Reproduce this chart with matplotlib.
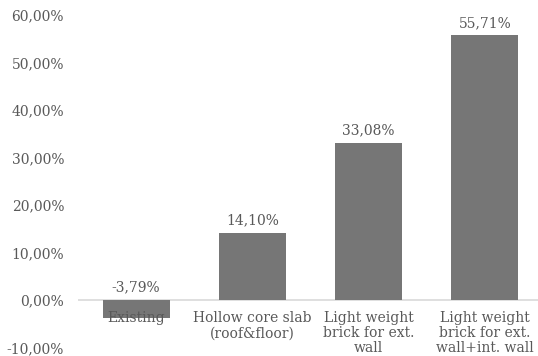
import matplotlib
matplotlib.use("Agg")
import matplotlib.pyplot as plt
from matplotlib.ticker import FuncFormatter

categories = [
    "Existing",
    "Hollow core slab\n(roof&floor)",
    "Light weight\nbrick for ext.\nwall",
    "Light weight\nbrick for ext.\nwall+int. wall",
]
values = [-3.79, 14.10, 33.08, 55.71]
yticks = [-10, 0, 10, 20, 30, 40, 50, 60]

BAR = "#767676"
TEXT = "#595959"
AXIS = "#d9d9d9"
FONT = "DejaVu Serif"

fig = plt.figure(figsize=(5.38, 3.56), dpi=100)
ax = fig.add_axes([78 / 538, 0, 1 - 78 / 538, 1])

x = list(range(len(categories)))
ax.bar(x, values, width=0.575, color=BAR, zorder=2)

ax.set_xlim(-0.5, 3.457)
ax.set_ylim(-11.79, 63.16)

ax.axhline(0, color=AXIS, lw=1.2, zorder=1)
for s in ax.spines.values():
    s.set_visible(False)

ax.set_xticks([])
ax.set_yticks(yticks)
ax.yaxis.set_major_formatter(FuncFormatter(lambda v, p: f"{v:.2f}%".replace(".", ",")))
ax.tick_params(axis="y", length=0, pad=10, labelcolor=TEXT, labelsize=10)
for lbl in ax.get_yticklabels():
    lbl.set_fontfamily(FONT)

# value labels above each bar (or above the zero line for negatives)
for xi, v in zip(x, values):
    ax.annotate(f"{v:.2f}%".replace(".", ","), (xi, max(v, 0)),
                xytext=(0, 4), textcoords="offset points",
                ha="center", va="bottom", color=TEXT, fontsize=10,
                family=FONT, zorder=3)

# category labels hanging from the zero line
for xi, c in zip(x, categories):
    ax.annotate(c, (xi, 0), xytext=(0, -8), textcoords="offset points",
                ha="center", va="top", color=TEXT, fontsize=10,
                family=FONT, linespacing=1.1, zorder=3)

fig.savefig("out.png", dpi=100)
